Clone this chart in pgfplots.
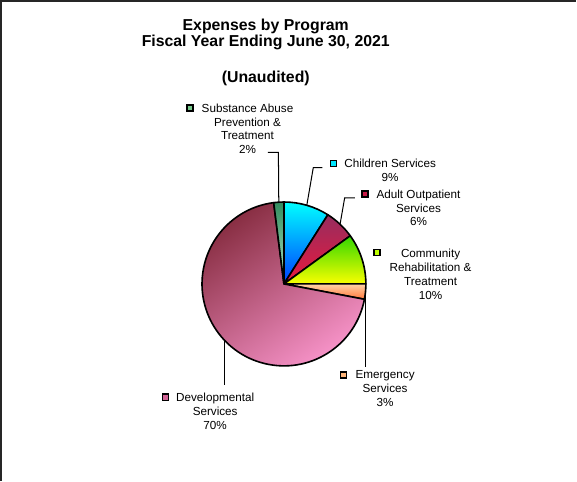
\documentclass[border=0pt]{standalone}
\usepackage{fontspec}
\setmainfont{Liberation Sans}
\usepackage{pgfplots}
\usepackage{pgfplotstable}
\pgfplotsset{compat=1.18}

% slice shadings
\definecolor{chTop}{RGB}{0,255,255}
\definecolor{chMid}{RGB}{0,225,255}
\definecolor{chBot}{RGB}{0,60,255}
\definecolor{adTop}{RGB}{150,45,95}
\definecolor{adBot}{RGB}{235,25,60}
\definecolor{coTop}{RGB}{50,215,0}
\definecolor{coMid}{RGB}{200,255,0}
\definecolor{coBot}{RGB}{250,255,0}
\definecolor{emTop}{RGB}{255,210,165}
\definecolor{emBot}{RGB}{255,120,60}
\definecolor{deTop}{RGB}{135,45,65}
\definecolor{deBot}{RGB}{248,148,202}
\definecolor{suTop}{RGB}{50,140,95}
\definecolor{suBot}{RGB}{175,232,195}
% legend keys
\definecolor{chKey}{RGB}{0,230,255}
\definecolor{adKey}{RGB}{200,25,70}
\definecolor{coKey}{RGB}{190,255,0}
\definecolor{emKey}{RGB}{255,180,120}
\definecolor{deKey}{RGB}{210,100,150}
\definecolor{suKey}{RGB}{120,200,140}

\tikzset{
  slice/.style={draw=black, line width=1.6bp, line join=round},
  slice0/.style={slice, top color=chTop, middle color=chMid, bottom color=chBot},
  slice1/.style={slice, top color=adTop, bottom color=adBot},
  slice2/.style={slice, top color=coTop, middle color=coMid, bottom color=coBot},
  slice3/.style={slice, top color=emTop, bottom color=emBot},
  slice4/.style={slice, top color=deTop, bottom color=deBot, shading angle=35},
  slice5/.style={slice, top color=suTop, bottom color=suBot},
  lbl/.style={anchor=north, align=center, inner sep=0pt,
    font=\fontsize{11.6}{13.7}\selectfont},
  ttl/.style={anchor=base, inner sep=0pt,
    font=\bfseries\fontsize{15.7}{18}\selectfont},
  leader/.style={draw=black, line width=1bp},
}

% share of expenses, clockwise from 12 o'clock
\pgfplotstableread{
program value
Children 9
Adult 6
Community 10
Emergency 3
Developmental 70
Substance 2
}\piedata

\newcommand{\key}[3]{% x, y, colour
  \filldraw[fill=#3, draw=black, line width=1.4bp]
    (axis cs:#1-3,#2-3) rectangle (axis cs:#1+3,#2+3);}

\begin{document}
\begin{tikzpicture}
\begin{axis}[
    hide axis,
    scale only axis,
    width=577bp, height=480bp,
    xmin=0, xmax=577, ymin=0, ymax=480,
    clip=false,
]
% frame
\draw[black!85, line width=1.5bp] (axis cs:8,0) -- (axis cs:8,475) -- (axis cs:577,475);

% pie slices from the table
\def\cum{0}
\pgfplotsforeachungrouped \i in {0,...,5}{%
  \pgfplotstablegetelem{\i}{value}\of\piedata
  \pgfmathsetmacro\aStart{90-3.6*\cum}
  \pgfmathsetmacro\cum{\cum+\pgfplotsretval}
  \pgfmathsetmacro\aEnd{90-3.6*\cum}
  \edef\temp{\noexpand\draw[slice\i] (axis cs:288,195) -- ++(\aStart:81bp)
    arc[start angle=\aStart, end angle=\aEnd, radius=81bp] -- cycle;}%
  \temp
}

% title
\node[ttl] at (axis cs:270,446) {Expenses by Program};
\node[ttl] at (axis cs:270,429.5) {Fiscal Year Ending June 30, 2021};
\node[ttl] at (axis cs:270,394) {(Unaudited)};

% leader lines
\draw[leader] (axis cs:272,325) -- (axis cs:282.5,325) -- (axis cs:282.9,275.8);
\draw[leader] (axis cs:326,310) -- (axis cs:317,310) -- (axis cs:310.6,272.8);
\draw[leader] (axis cs:358,280) -- (axis cs:348,280) -- (axis cs:343.5,254.1);
\draw[leader] (axis cs:368.6,187.4) -- (axis cs:368.6,113);
\draw[leader] (axis cs:229,139.6) -- (axis cs:229,95);

% data labels
\node[lbl] at (axis cs:252,373.3) {Substance Abuse\\Prevention \&\\Treatment\\2\%};
\key{195}{369}{suKey}
\node[lbl] at (axis cs:393,318.3) {Children Services\\9\%};
\key{337}{314}{chKey}
\node[lbl] at (axis cs:421,288.3) {Adult Outpatient\\Services\\6\%};
\key{368}{284}{adKey}
\node[lbl] at (axis cs:433,229.3) {Community\\Rehabilitation \&\\Treatment\\10\%};
\key{380}{226}{coKey}
\node[lbl] at (axis cs:388,109.3) {Emergency\\Services\\3\%};
\key{347}{105}{emKey}
\node[lbl] at (axis cs:220,87.3) {Developmental\\Services\\70\%};
\key{171}{83}{deKey}
\end{axis}
\end{tikzpicture}
\end{document}
